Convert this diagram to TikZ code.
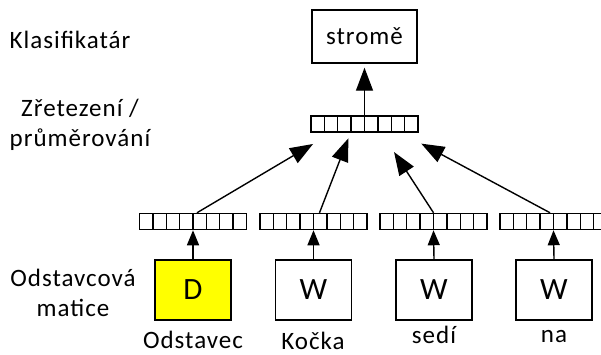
\documentclass[tikz,border=0pt]{standalone}
\usepackage{fontspec}
\setmainfont{Carlito}[LetterSpace=4]
\usetikzlibrary{arrows.meta}
\definecolor{docyellow}{RGB}{255,255,0}

\begin{document}
\begin{tikzpicture}[x=1pt, y=-1pt,
        vec/.style={draw, line width=1.5pt, minimum width=107pt, minimum height=16pt, inner sep=0pt,
            path picture={\foreach \k in {1,...,7}
                \draw[line width=1.3pt] ([xshift=\k*13.375pt]path picture bounding box.south west)
                    -- ([xshift=\k*13.375pt]path picture bounding box.north west);}},
        wordbox/.style={draw, line width=1.4pt, minimum width=76pt, minimum height=60pt, inner sep=0pt,
            font=\fontsize{31}{31}\selectfont},
        bigarrow/.style={-{Triangle[length=23pt,width=17pt]}, line width=1.4pt},
        smallarrow/.style={-{Triangle[length=15pt,width=12pt]}, line width=1.4pt},
        font=\fontsize{25}{30}\selectfont]
        %Bildbereich
        \clip (0,0) rectangle (601,354);
        % Beschriftung links
        \node (klas) at (70,40) {Klasifikatár};
        \node[align=center] (zret) at (80,125) {Zřetezení /\\průměrování};
        \node[align=center] (odst) at (73,293) {Odstavcová\\matice};
        % Klassifikator und Vektor
        \node[draw, line width=1.4pt, minimum width=105pt, minimum height=53pt] (strome) at (364.5,36.5) {stromě};
        \node[vec] (vtop) at (364.5,124) {};
        \draw[bigarrow, shorten >=4pt] (vtop.north) -- (strome.south);
        % Woerter unten
        \node[wordbox, fill=docyellow] (b1) at (193,290) {D};
        \foreach \i/\x in {2/313.5,3/434,4/554}
            \node[wordbox] (b\i) at (\x,290) {W};
        \foreach \i/\x in {1/193,2/313.5,3/433.5,4/553.5} {
            \node[vec] (v\i) at (\x,221.5) {};
            \draw[smallarrow] (b\i.north) -- (v\i.south);
        }
        \node[anchor=base] (w1) at (193,348) {Odstavec};
        \node[anchor=base] (w2) at (313,349) {Kočka};
        \node[anchor=base] (w3) at (434,343) {sedí};
        \node[anchor=base] (w4) at (554,342) {na};
        % Pfeile zum Vektor oben
        \draw[bigarrow, shorten >=22pt] ([xshift=4pt]v1.north) -- ([xshift=-32.5pt]vtop.south);
        \draw[bigarrow, shorten >=6pt] ([xshift=6pt]v2.north) -- ([xshift=-14pt]vtop.south);
        \draw[bigarrow, shorten >=23pt] (v3.north) -- ([xshift=17pt]vtop.south);
        \draw[bigarrow, shorten >=23pt] ([xshift=-3.5pt]v4.north) -- ([xshift=36.5pt]vtop.south);
\end{tikzpicture}
\end{document}
